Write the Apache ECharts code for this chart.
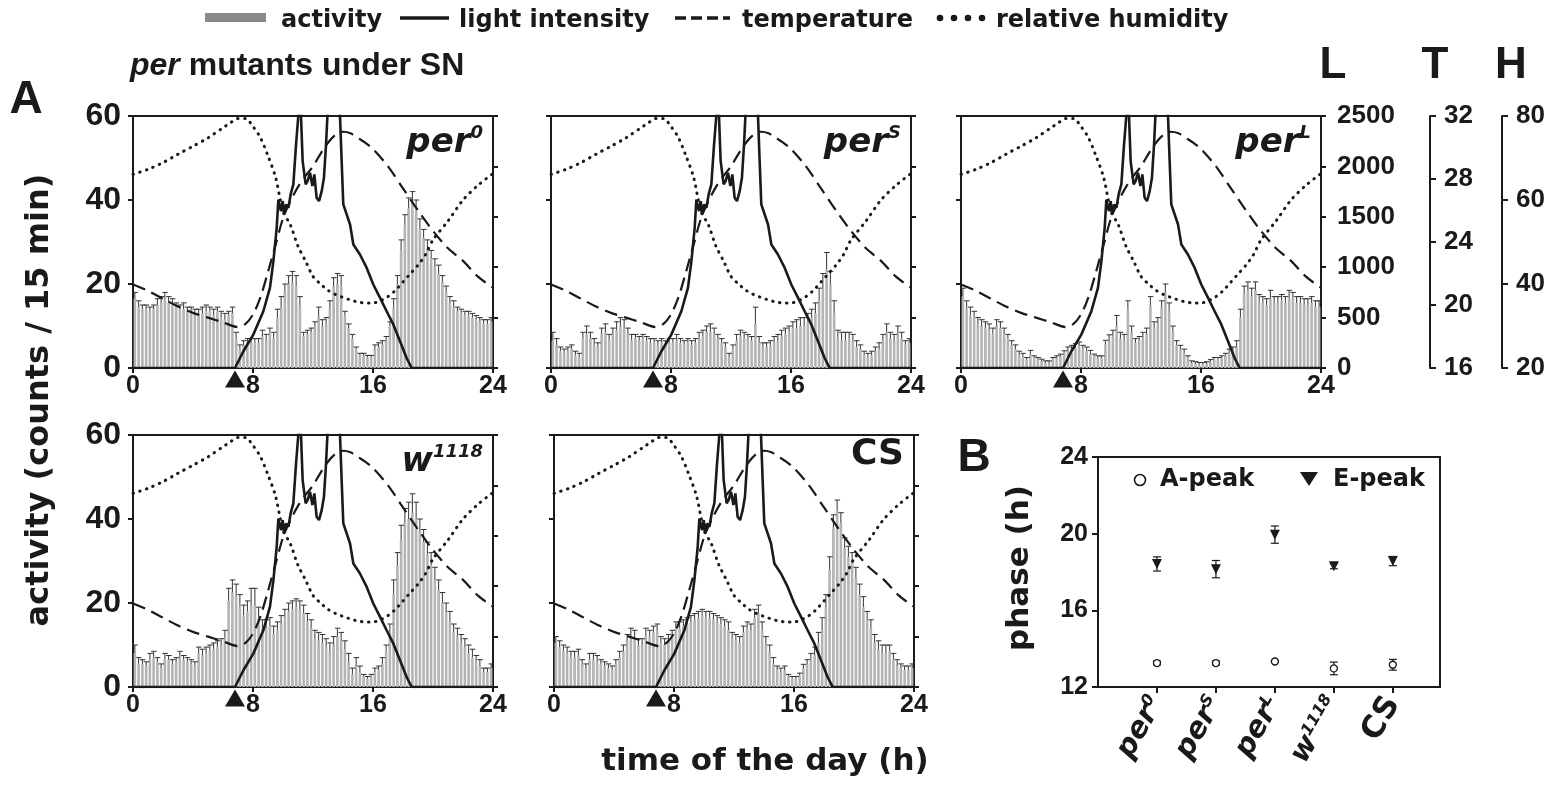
<!DOCTYPE html>
<html>
<head>
<meta charset="utf-8">
<script src="https://cdn.jsdelivr.net/npm/echarts@6/dist/echarts.min.js"></script>
<style>
  html, body { margin: 0; padding: 0; background: #fff; }
  #chart { width: 1564px; height: 786px; }
</style>
</head>
<body>
<div id="chart"></div>
<script>
// ---- activity (counts / 15 min), 96 bins per day ----
const per0Act = [16.5,14.5,14,14,13.5,14,15,15.5, 16.5,15.5,15,14.5,14,14,13.5,13.5, 13,13,13,13.5,13.5,12.5,13.5,12,
  11.5,12.5,13,7,4.5,5.5,6,6, 6,6,7.5,6.5,8.5,7,12,14.5, 18,20,20.5,19.5,15,7.5,8,8.5,
  10,12.5,10,10.5,14,19.5,20,19.5, 12.5,9.5,7,4.5,3,3,2.5,2.5, 4.5,5,5.5,6.5,10,14.5,20,28,
  34,38,39.5,37.5,33,31,28.5,26, 24,22.5,20.5,18,15.5,14.5,13.5,13, 12.5,12.5,12,11.5,11,10.5,10.5,11];
const per0Err = [1.5,1.5,1,1,1,1,1.5,1.5, 1.5,1.5,1.5,1,1,1.5,1,1, 1,1,1.5,1.5,1,1.5,1,1.5,
  1.5,1,1.5,1.5,1,1,1,1, 1,1,1.5,1.5,1,1.5,2,2.5, 2,2,2.5,2.5,2,1,1,1,
  1,2,1.5,1.5,2,2,2.5,2.5, 1,1,1,0.5,0.5,0.5,0.5,0.5, 1,1,1,1,1,2,2,2.5,
  2.5,2.5,2.5,2.5,2.5,2,2,2, 2,2,1.5,1.5,1.5,1.5,1,1, 1,1,1,1,1,1,1,1];

const perSAct = [6.5,5.5,4,3.5,4,4.5,3,2.5, 7,8,7,5.5,5,8,8.5,6.5, 8,9,10,9.5,8,6.5,7,6.5,
  7,6.5,6,6,5.5,6,5.5,6, 6,6.5,6,5.5,6,5.5,6,7, 7.5,8.5,8.5,8,7,6,5,2.5,
  4.5,6.5,7.5,7,7,6.5,10.5,6, 5,5,5.5,6,6.5,7.5,8,8.5, 9.5,9.5,10,10,11,12,13,16,
  19,23.5,20,13,7,6.5,6.5,7, 6.5,5,4.5,3,2.5,3,4,4.5, 6.5,8.5,7,6.5,8,7,5.5,6];
const perSErr = [2,1.5,1,1,1,1,1,1, 1.5,2,1.5,1.5,1,1.5,2,1.5, 1.5,2,2,2,1.5,1.5,1,1,
  1,1,1,1,1,1,1,1, 1,1.5,1,1,1,1,1,1.5, 1.5,1.5,2,1.5,1,1,1,1,
  1,1.5,1.5,1.5,1,1,4,1.5, 1,1,1,1.5,1.5,1.5,1.5,1.5, 1.5,2,2,2,2,2,2.5,3,
  3.5,4,3,3,2,2,2,1.5, 1.5,1.5,1,1,1,1,1,1.5, 1.5,2,1.5,1.5,2,1.5,1,1];

const perLAct = [17,14,12.5,12,10.5,10,9.5,9, 8,10,9.5,8,7,5.5,4.5,3, 2.5,2,3.2,2.4,2,1.6,1.2,1.2,
  2,2.4,2.8,3.6,4,4.4,4.8,5.2, 4.4,4,3.2,2.8,2.4,2.4,5.6,6.4, 7.5,10,7,6.5,14,8.5,6,6.5,
  7,8,15,9.5,10.5,14.5,18,13.5, 8.5,5.5,4.4,3.5,2.4,1.2,1,0.8, 0.8,1,1.5,2,2,2.4,3,3.5,
  4,5,12,17.5,18.5,17,18.5,15.5, 15.5,15,16.5,15.5,15.5,16,15.5,16.5, 16.5,15.5,15.5,15,15,15.5,14.5,14.5];
const perLErr = [2,2,2,1.5,1.5,1.5,1.5,1.5, 1.5,1.5,1.5,1.5,1,1,1,1, 1,0.5,1,0.5,0.5,0.5,0.5,0.5,
  0.5,0.5,0.5,0.5,1,1,1,1, 1,1,1,0.5,0.5,0.5,1,1.5, 1.5,2.5,1.5,1.5,2,1.5,1,1,
  1.5,1.5,2,1.5,1.5,1.5,2,2, 1.5,1,1,1,0.5,0.5,0.5,0.5, 0.5,0.5,0.5,0.5,0.5,0.5,0.5,1,
  1,1.5,2,2,2,2,2,2, 1.5,1.5,2,1.5,1.5,1.5,1.5,2, 1.5,1.5,1.5,1.5,1.5,1.5,1.5,1.5];

const w1118Act = [8,5.5,5.5,5,6.5,7,6,4.5, 6.5,6.5,5.5,6,7,6.5,6,5.5, 5,8,7.5,8,8.5,9,9.5,10,
  11.5,20.5,22.5,21.5,19,17,18,19.5, 19.5,16.5,14,14,14.5,12.5,13.5,15, 16.5,18,18.5,19,18.5,17.5,15.5,14,
  11.5,11,10.5,9.5,8.5,10,12,11, 9,6,3,5,3.5,2.5,2,2.5, 3.5,4,5.5,8.5,13,22,29,35,
  39,40,41.5,40,37,34.5,31.5,29, 25.5,23,20,17.5,15.5,13,12,10.5, 9.5,8,7,6,5,3.5,3.5,4.5];
const w1118Err = [2,1.5,1,1,1.5,1.5,1,1, 1.5,1,1,1,1.5,1,1,1, 1,1.5,1.5,1.5,1.5,1.5,1.5,1.5,
  2,3,3,3,3,2.5,2.5,4, 4,2.5,2,2,2,2,2,2, 2,2,2,2,2,2,2,2,
  2,2,2,2,2,2,2,2, 2,2,1.5,2,1.5,0.5,0.5,0.5, 1,1,1.5,1.5,2,3.5,3,3.5,
  3.5,4,4.5,4,3,3,3,3, 3,2.5,2.5,2.5,2.5,2,2,2, 2,2,2,1.5,1.5,1,1,1];

const csAct = [10.5,9.5,8.5,8,7,7,7.5,5.5, 4.5,6.5,6.5,6,5.5,5,4.5,4, 5.5,7,8.5,11,12,11.5,10,10,
  12,12,13,13.5,10.5,10,11,12, 14,14,14.5,15,15.5,16,16.5,17, 16.5,16.5,16,15.5,15,14.5,13.5,11.5,
  11,10.5,13,14,13.5,16.5,17.5,13.5, 10,8.5,5.5,4,3.5,4,2.5,2, 2,2.8,4.4,5.5,6.5,7.5,10.5,13.5,
  19,28,38,42,39,33,31,29.5, 26,22,19,16,14,10.5,9,8, 8,8.5,6.5,5,4.5,4,4,4.5];
const csErr = [1.5,1.5,1.5,1.5,1.5,1.5,1.5,1, 1,1.5,1.5,1.5,1,1,1,1, 1,1.5,1.5,1.5,2,2,1.5,1.5,
  2,1.5,1.5,1.5,1.5,1.5,1.5,1.5, 1.5,1.5,1.5,1.5,1.5,1.5,1.5,1.5, 1.5,1.5,1.5,1.5,1.5,1.5,2,1.5,
  1.5,1.5,1.5,1.5,1.5,2,2,2, 2,1.5,1.5,1,1,1,0.5,0.5, 0.5,0.5,1,1,1.5,2,2.5,3,
  3,3,3,2.5,2.5,2.5,2.5,2.5, 2.5,2.5,2.5,2,2,2,2,2, 2,1.5,1.5,1.5,1,1,1,1];

// ---- environment (same for every panel) ----
const lightHours = [0,6.8,7.36,8.02,8.69,9.13,9.36,9.58,9.69,9.87, 9.98,10.07,10.2,10.36,10.51,10.69,10.87,11.02,11.1,11.2,
  11.31,11.51,11.64,11.8,11.96,12.09,12.24,12.4,12.58,12.73, 12.87,12.96,13.36,13.69,13.8,13.91,14.02,14.47,14.69,15.13,
  15.58,16.02,16.47,16.91,17.36,17.8,18.24,18.58,24];
const lightLux = [0,0,166,331,563,795,1060,1391,1672,1556, 1656,1523,1623,1589,1722,1821,2219,2500,2750,2500,
  2053,1821,1854,1937,1805,1921,1689,1656,1755,1887, 2219,2500,2900,2800,2500,2053,1623,1424,1225,1126,
  993,828,695,563,430,265,99,0,0];

const tempHours = [0,1,2,3,4,5,6,7,7.5,8,8.5,9,9.5,10,10.5,11,11.5,12,12.5,13,13.5,14,14.5,15,15.5,16,17,18,19,20,21,22,23,24];
const tempC = [21.3,20.9,20.4,19.9,19.5,19.2,18.9,18.6,18.8,19.4,20.5,22.1,23.8,25.5,26.6,27.5,28.2,28.8,29.6,30.3,30.8,31.0,30.9,30.6,30.3,29.9,28.8,27.4,26.0,24.7,23.6,22.8,21.8,21.1];

const humHours = [0,1,2,3,4,5,6, 6.5,7,7.5,8,8.5,9,9.5,10, 10.5,11,11.5,12,12.5,13,13.5,14,
  14.5,15,15.5,16,16.5,17,17.5,18, 18.5,19,19.5,20,21,22,23,24];
const humPct = [66.1,67.3,68.9,70.9,72.8,74.8,77.2, 78.4,79.4,79.4,77.5,74.8,70.5,65.5,57.4,
  54.0,49.0,45.5,41.8,40.0,38.5,37.5,36.8, 36.2,35.7,35.5,35.5,36.0,37.0,38.5,40.5,
  42.5,44.5,47.0,50.5,55.0,60.0,63.5,66.3];

const sunriseHour = 6.8;

// ---- panel B: peak phases (h) ----
const strains = ['per0', 'perS', 'perL', 'w1118', 'CS'];
const aPeak = [13.25, 13.25, 13.33, 12.97, 13.16];
const aPeakErr = [0.1, 0.1, 0.05, 0.33, 0.28];
const ePeak = [18.42, 18.15, 19.95, 18.3, 18.57];
const ePeakErr = [0.37, 0.45, 0.45, 0.13, 0.24];

const NUM = 'Liberation Sans, Arial, sans-serif';
const WORD = 'DejaVu Sans, sans-serif';
const INK = '#1a1a1a';

const panels = [
  { act: per0Act, err: per0Err, left: 133, top: 116, yLab: true, env: false, tag: '{i|per}{s|0}' },
  { act: perSAct, err: perSErr, left: 551, top: 116, yLab: false, env: false, tag: '{i|per}{s|S}' },
  { act: perLAct, err: perLErr, left: 961, top: 116, yLab: false, env: true, tag: '{i|per}{s|L}' },
  { act: w1118Act, err: w1118Err, left: 133, top: 435, yLab: true, env: false, tag: '{i|w}{s|1118}' },
  { act: csAct, err: csErr, left: 554, top: 435, yLab: false, env: false, tag: '{c|CS}' }
];
const PW = 360, PH = 252;
const binIdx = per0Act.map((_, i) => i);

const axLine = { show: true, onZero: false, lineStyle: { color: INK, width: 2 } };
const axTick = (len) => ({ show: true, length: len, lineStyle: { color: INK, width: 2 } });
const numLabel = (size, margin, show) => ({ show: show, fontFamily: NUM, fontWeight: 'bold', fontSize: size, color: INK,
  margin: margin, formatter: (v) => String(v) });

function upperErr(params, api) {
  const i = api.value(0), v = api.value(1), e = api.value(2);
  const b = api.coord([i, v]), t = api.coord([i, v + e]);
  const st = { stroke: '#333', lineWidth: 1 };
  return { type: 'group', children: [
    { type: 'line', shape: { x1: b[0], y1: b[1], x2: t[0], y2: t[1] }, style: st },
    { type: 'line', shape: { x1: t[0] - 2.5, y1: t[1], x2: t[0] + 3, y2: t[1] }, style: st }
  ] };
}
function bothErr(params, api) {
  const x = api.value(0), v = api.value(1), e = api.value(2);
  const hi = api.coord([x, v + e]), lo = api.coord([x, v - e]);
  const st = { stroke: INK, lineWidth: 1.2 };
  return { type: 'group', children: [
    { type: 'line', shape: { x1: hi[0], y1: hi[1], x2: lo[0], y2: lo[1] }, style: st },
    { type: 'line', shape: { x1: hi[0] - 4, y1: hi[1], x2: hi[0] + 4, y2: hi[1] }, style: st },
    { type: 'line', shape: { x1: lo[0] - 4, y1: lo[1], x2: lo[0] + 4, y2: lo[1] }, style: st }
  ] };
}

const grid = [], xAxis = [], yAxis = [], series = [], graphic = [];

panels.forEach((p, g) => {
  grid.push({ left: p.left, top: p.top, width: PW, height: PH, show: true, borderColor: INK, borderWidth: 2 });
  const xCat = xAxis.length;
  xAxis.push({ type: 'category', gridIndex: g, position: 'bottom', data: binIdx, show: false, boundaryGap: true });
  const xVal = xAxis.length;
  xAxis.push({ type: 'value', gridIndex: g, position: 'bottom', min: 0, max: 24, interval: 8, axisLine: axLine, axisTick: axTick(5),
    axisLabel: numLabel(25, 6, true), splitLine: { show: false } });
  const yAct = yAxis.length;
  yAxis.push({ type: 'value', gridIndex: g, position: 'left', min: 0, max: 60, interval: 20, axisLine: axLine, axisTick: axTick(5),
    axisLabel: numLabel(32, 12, p.yLab), splitLine: { show: false } });
  const yL = yAxis.length;
  yAxis.push({ type: 'value', gridIndex: g, position: 'right', min: 0, max: 2500, interval: 500, axisLine: axLine,
    axisTick: axTick(5), axisLabel: numLabel(26, 16, p.env), splitLine: { show: false } });
  const yT = yAxis.length;
  yAxis.push({ type: 'value', gridIndex: g, position: 'right', offset: 109, min: 16, max: 32, interval: 4, show: p.env,
    axisLine: axLine, axisTick: axTick(6), axisLabel: numLabel(26, 14, true), splitLine: { show: false } });
  const yH = yAxis.length;
  yAxis.push({ type: 'value', gridIndex: g, position: 'right', offset: 181, min: 20, max: 80, interval: 20, show: p.env,
    axisLine: axLine, axisTick: axTick(6), axisLabel: numLabel(26, 14, true), splitLine: { show: false } });

  series.push({ type: 'bar', xAxisIndex: xCat, yAxisIndex: yAct, data: p.act, barCategoryGap: '30%',
    itemStyle: { color: '#b4b4b4' }, z: 2, silent: true });
  series.push({ type: 'custom', xAxisIndex: xCat, yAxisIndex: yAct, renderItem: upperErr, z: 3, silent: true,
    data: p.act.map((v, i) => [i, v, p.err[i]]) });
  series.push({ type: 'line', xAxisIndex: xVal, yAxisIndex: yL, showSymbol: false, z: 5, silent: true,
    data: lightHours.map((h, i) => [h, lightLux[i]]), lineStyle: { color: INK, width: 2.6 } });
  series.push({ type: 'line', xAxisIndex: xVal, yAxisIndex: yT, showSymbol: false, smooth: 0.3, z: 5, silent: true,
    data: tempHours.map((h, i) => [h, tempC[i]]), lineStyle: { color: INK, width: 2.2, type: [13, 7] } });
  series.push({ type: 'line', xAxisIndex: xVal, yAxisIndex: yH, showSymbol: false, smooth: 0.3, z: 5, silent: true,
    data: humHours.map((h, i) => [h, humPct[i]]), lineStyle: { color: INK, width: 3, type: [0.5, 6.5], cap: 'round' } });
  series.push({ type: 'scatter', xAxisIndex: xVal, yAxisIndex: yAct, data: [[sunriseHour, -2.6]], symbol: 'triangle',
    symbolSize: [20, 17], itemStyle: { color: INK, opacity: 1 }, clip: false, z: 6, silent: true });

  const isCS = p.tag.indexOf('CS') >= 0;
  graphic.push({ type: 'text', x: p.left + PW - 10, y: p.top + (isCS ? 20 : 27), z: 10,
    style: { text: p.tag, align: 'right', verticalAlign: 'middle', fill: INK,
      rich: {
        i: { fontFamily: WORD, fontWeight: 'bold', fontStyle: 'italic', fontSize: 34, lineHeight: 38, fill: INK },
        s: { fontFamily: WORD, fontWeight: 'bold', fontStyle: 'italic', fontSize: 18, verticalAlign: 'top', fill: INK },
        c: { fontFamily: WORD, fontWeight: 'bold', fontSize: 36, fill: INK }
      } } });
});

// ---- panel B ----
const gB = grid.length;
grid.push({ left: 1098, top: 457, width: 342, height: 230, show: true, borderColor: INK, borderWidth: 2 });
const xB = xAxis.length;
const strainTags = ['{i|per}{s|0}', '{i|per}{s|S}', '{i|per}{s|L}', '{i|w}{s|1118}', '{c|CS}'];
xAxis.push({ type: 'value', gridIndex: gB, position: 'bottom', min: 0, max: 5.8, axisLine: axLine,
  axisTick: { show: true, length: 6, customValues: [1, 2, 3, 4, 5], lineStyle: { color: INK, width: 2 } },
  splitLine: { show: false },
  axisLabel: { customValues: [1, 2, 3, 4, 5], rotate: 60, margin: 12, formatter: (v) => strainTags[Math.round(v) - 1] || '',
    rich: {
      i: { fontFamily: WORD, fontWeight: 'bold', fontStyle: 'italic', fontSize: 29, color: INK },
      s: { fontFamily: WORD, fontWeight: 'bold', fontStyle: 'italic', fontSize: 16, color: INK, verticalAlign: 'top' },
      c: { fontFamily: WORD, fontWeight: 'bold', fontSize: 31, color: INK }
    } } });
const yB = yAxis.length;
yAxis.push({ type: 'value', gridIndex: gB, min: 12, max: 24, interval: 4, axisLine: axLine, axisTick: axTick(6),
  axisLabel: numLabel(25, 10, true), splitLine: { show: false } });
const xs = strains.map((_, i) => i + 1);
series.push({ type: 'custom', xAxisIndex: xB, yAxisIndex: yB, renderItem: bothErr, z: 3, silent: true,
  data: xs.map((x, i) => [x, aPeak[i], aPeakErr[i]]).concat(xs.map((x, i) => [x, ePeak[i], ePeakErr[i]])) });
series.push({ type: 'scatter', name: 'A-peak', xAxisIndex: xB, yAxisIndex: yB, symbol: 'circle', symbolSize: 7, z: 5,
  data: xs.map((x, i) => [x, aPeak[i]]), itemStyle: { color: '#fff', borderColor: INK, borderWidth: 1.3, opacity: 1 } });
series.push({ type: 'scatter', name: 'E-peak', xAxisIndex: xB, yAxisIndex: yB, symbol: 'triangle', symbolRotate: 180,
  symbolSize: 10, z: 5, data: xs.map((x, i) => [x, ePeak[i]]), itemStyle: { color: INK, opacity: 1 } });

// ---- texts, legends ----
const wordStyle = (size, extra) => Object.assign({ fontFamily: WORD, fontWeight: 'bold', fontSize: size, fill: INK }, extra || {});
const bigLetter = (t, x, y, size) => ({ type: 'text', x: x, y: y,
  style: { text: t, align: 'center', verticalAlign: 'middle', fontFamily: NUM, fontWeight: 'bold', fontSize: size, fill: INK } });
graphic.push(
  // top legend
  { type: 'rect', shape: { x: 205, y: 13, width: 61, height: 9 }, style: { fill: '#8a8a8a' } },
  { type: 'text', x: 281, y: 21, style: wordStyle(24, { text: 'activity', verticalAlign: 'middle' }) },
  { type: 'line', shape: { x1: 400, y1: 18, x2: 449, y2: 18 }, style: { stroke: INK, lineWidth: 3.5 } },
  { type: 'text', x: 459, y: 21, style: wordStyle(24, { text: 'light intensity', verticalAlign: 'middle' }) },
  { type: 'line', shape: { x1: 675, y1: 18, x2: 730, y2: 18 }, style: { stroke: INK, lineWidth: 3.5, lineDash: [11, 5] } },
  { type: 'text', x: 742, y: 21, style: wordStyle(24, { text: 'temperature', verticalAlign: 'middle' }) },
  { type: 'circle', shape: { cx: 940, cy: 18, r: 3.3 }, style: { fill: INK } },
  { type: 'circle', shape: { cx: 954, cy: 18, r: 3.3 }, style: { fill: INK } },
  { type: 'circle', shape: { cx: 968, cy: 18, r: 3.3 }, style: { fill: INK } },
  { type: 'circle', shape: { cx: 982, cy: 18, r: 3.3 }, style: { fill: INK } },
  { type: 'text', x: 996, y: 21, style: wordStyle(24, { text: 'relative humidity', verticalAlign: 'middle' }) },
  // title and panel letters
  { type: 'text', x: 130, y: 66, style: { text: '{i|per} mutants under SN', verticalAlign: 'middle', fill: INK,
    rich: { i: { fontFamily: NUM, fontWeight: 'bold', fontStyle: 'italic', fontSize: 32, fill: INK } },
    fontFamily: NUM, fontWeight: 'bold', fontSize: 32 } },
  bigLetter('A', 26, 100, 46),
  bigLetter('B', 974, 458, 46),
  bigLetter('L', 1333, 66, 44),
  bigLetter('T', 1435, 66, 44),
  bigLetter('H', 1511, 66, 44),
  // axis names
  { type: 'text', x: 40, y: 400, rotation: Math.PI / 2, style: wordStyle(32, { text: 'activity (counts / 15 min)', align: 'center', verticalAlign: 'middle' }) },
  { type: 'text', x: 765, y: 762, style: wordStyle(31, { text: 'time of the day (h)', align: 'center', verticalAlign: 'middle' }) },
  { type: 'text', x: 1020, y: 568, rotation: Math.PI / 2, style: wordStyle(31, { text: 'phase (h)', align: 'center', verticalAlign: 'middle' }) },
  // panel B legend
  { type: 'circle', shape: { cx: 1140, cy: 480, r: 5.5 }, style: { fill: '#fff', stroke: INK, lineWidth: 1.6 } },
  { type: 'text', x: 1160, y: 480, style: wordStyle(24, { text: 'A-peak', verticalAlign: 'middle' }) },
  { type: 'polygon', shape: { points: [[1300, 472], [1318, 472], [1309, 486]] }, style: { fill: INK } },
  { type: 'text', x: 1333, y: 480, style: wordStyle(24, { text: 'E-peak', verticalAlign: 'middle' }) }
);

const chart = echarts.init(document.getElementById('chart'));
chart.setOption({ animation: false, backgroundColor: '#fff', grid, xAxis, yAxis, series, graphic });
</script>
</body>
</html>
